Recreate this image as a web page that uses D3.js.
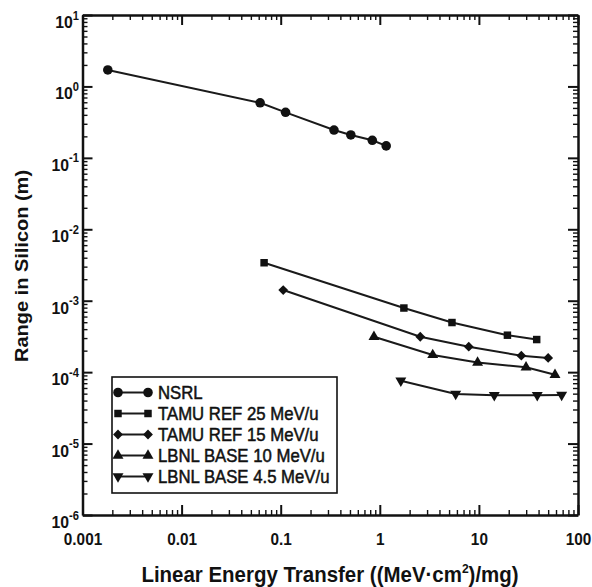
<!DOCTYPE html>
<html>
<head>
<meta charset="utf-8">
<script src="https://cdn.jsdelivr.net/npm/d3@7"></script>
<style>
  html, body { margin: 0; padding: 0; background: #fff; }
  svg { display: block; }
  text { font-family: "Liberation Sans", Arial, Helvetica, sans-serif; fill: #111; }
</style>
</head>
<body>
<svg id="chart" width="592" height="587"></svg>
<script>
// ---- Data ----
const nsrlLET     = [0.0018, 0.062, 0.112, 0.345, 0.51, 0.84, 1.16];
const nsrlRange   = [1.70, 0.59, 0.434, 0.245, 0.209, 0.176, 0.147];
const tamu25LET   = [0.068, 1.75, 5.35, 19.4, 38.3];
const tamu25Range = [3.4e-3, 7.9e-4, 4.95e-4, 3.29e-4, 2.86e-4];
const tamu15LET   = [0.106, 2.56, 7.9, 26.8, 50];
const tamu15Range = [1.41e-3, 3.13e-4, 2.27e-4, 1.70e-4, 1.58e-4];
const lbnl10LET   = [0.873, 3.42, 9.7, 29.9, 58.6];
const lbnl10Range = [3.13e-4, 1.74e-4, 1.36e-4, 1.17e-4, 9.2e-5];
const lbnl45LET   = [1.63, 5.83, 14.3, 38.8, 68.4];
const lbnl45Range = [7.6e-5, 4.95e-5, 4.75e-5, 4.75e-5, 4.8e-5];

const seriesNames = ["NSRL", "TAMU REF 25 MeV/u", "TAMU REF 15 MeV/u", "LBNL BASE 10 MeV/u", "LBNL BASE 4.5 MeV/u"];
const seriesMarkers = ["circle", "square", "diamond", "triangle", "triangleDown"];

const xTickValues = [0.001, 0.01, 0.1, 1, 10, 100];
const xTickLabels = ["0.001", "0.01", "0.1", "1", "10", "100"];
const yTickValues = [1e-6, 1e-5, 1e-4, 1e-3, 1e-2, 1e-1, 1, 10];
const yTickExponents = ["-6", "-5", "-4", "-3", "-2", "-1", "0", "1"];

const xTitle = "Linear Energy Transfer ((MeV·cm";
const yTitle = "Range in Silicon (m)";

// ---- Layout ----
const svg = d3.select("#chart");
const X0 = 82.5, X1 = 578, Y0 = 515, Y1 = 15;
const SQ = 0.93; // horizontal text compression seen in reference

const x = d3.scaleLog().domain([0.001, 100]).range([X0, X1]);
const y = d3.scaleLog().domain([1e-6, 10]).range([Y0, Y1]);

function minors(lo, hi) {
  const out = [];
  for (let e = lo; e < hi; e++) for (let m = 2; m <= 9; m++) out.push(m * Math.pow(10, e));
  return out;
}
const xMinor = minors(-3, 2);
const yMinor = minors(-6, 1);

function styleAxis(g, major) {
  g.selectAll(".domain").attr("stroke", "#111").attr("stroke-width", 2.5);
  g.selectAll(".tick line").attr("stroke", "#111").attr("stroke-width", major ? 2 : 1.4);
}

// bottom
const gb = svg.append("g").attr("transform", `translate(0,${Y0})`)
  .call(d3.axisBottom(x).tickValues(xTickValues).tickSize(-10).tickSizeOuter(0).tickPadding(18)
        .tickFormat((d, i) => xTickLabels[i]));
styleAxis(gb, true);
gb.selectAll(".tick text").attr("font-size", 16.5).attr("fill", "#111")
  .attr("font-family", "Liberation Sans, Arial, sans-serif").style("font-weight", "bold")
  .attr("transform", `scale(${SQ},1)`);
const gbm = svg.append("g").attr("transform", `translate(0,${Y0})`)
  .call(d3.axisBottom(x).tickValues(xMinor).tickSize(-5).tickSizeOuter(0).tickFormat(""));
gbm.select(".domain").remove(); styleAxis(gbm, false);

// top
const gt = svg.append("g").attr("transform", `translate(0,${Y1})`)
  .call(d3.axisTop(x).tickValues(xTickValues).tickSize(-10).tickSizeOuter(0).tickFormat(""));
styleAxis(gt, true);
const gtm = svg.append("g").attr("transform", `translate(0,${Y1})`)
  .call(d3.axisTop(x).tickValues(xMinor).tickSize(-5).tickSizeOuter(0).tickFormat(""));
gtm.select(".domain").remove(); styleAxis(gtm, false);

// left
const gl = svg.append("g").attr("transform", `translate(${X0},0)`)
  .call(d3.axisLeft(y).tickValues(yTickValues).tickSize(-10).tickSizeOuter(0).tickFormat(""));
styleAxis(gl, true);
gl.selectAll(".tick").each(function(d, i) {
  const t = d3.select(this).append("text")
    .attr("text-anchor", "end")
    .attr("transform", `translate(-3.5,12.5) scale(${SQ},1)`)
    .attr("fill", "#111").style("font-weight", "bold")
    .attr("font-family", "Liberation Sans, Arial, sans-serif");
  t.append("tspan").attr("font-size", 17).text("10");
  t.append("tspan").attr("font-size", 12).attr("dy", -8.5).text(yTickExponents[i]);
});
const glm = svg.append("g").attr("transform", `translate(${X0},0)`)
  .call(d3.axisLeft(y).tickValues(yMinor).tickSize(-5).tickSizeOuter(0).tickFormat(""));
glm.select(".domain").remove(); styleAxis(glm, false);

// right
const gr = svg.append("g").attr("transform", `translate(${X1},0)`)
  .call(d3.axisRight(y).tickValues(yTickValues).tickSize(-10).tickSizeOuter(0).tickFormat(""));
styleAxis(gr, true);
const grm = svg.append("g").attr("transform", `translate(${X1},0)`)
  .call(d3.axisRight(y).tickValues(yMinor).tickSize(-5).tickSizeOuter(0).tickFormat(""));
grm.select(".domain").remove(); styleAxis(grm, false);

// ---- Series ----
const seriesData = [
  { lets: nsrlLET,   ranges: nsrlRange },
  { lets: tamu25LET, ranges: tamu25Range },
  { lets: tamu15LET, ranges: tamu15Range },
  { lets: lbnl10LET, ranges: lbnl10Range },
  { lets: lbnl45LET, ranges: lbnl45Range },
];

function markerPath(kind) {
  switch (kind) {
    case "circle": return { p: d3.symbol().type(d3.symbolCircle).size(72)(), r: 0 };
    case "square": return { p: d3.symbol().type(d3.symbolSquare).size(56)(), r: 0 };
    case "diamond": return { p: d3.symbol().type(d3.symbolSquare).size(48)(), r: 45 };
    case "triangle": return { p: d3.symbol().type(d3.symbolTriangle).size(52)(), r: 0 };
    case "triangleDown": return { p: d3.symbol().type(d3.symbolTriangle).size(52)(), r: 180 };
  }
}

const line = d3.line().x(d => x(d[0])).y(d => y(d[1]));

seriesData.forEach((s, si) => {
  const pts = s.lets.map((v, i) => [v, s.ranges[i]]);
  svg.append("path").datum(pts).attr("d", line)
    .attr("fill", "none").attr("stroke", "#1a1a1a").attr("stroke-width", 2);
  const m = markerPath(seriesMarkers[si]);
  svg.append("g").selectAll("path").data(pts).join("path")
    .attr("d", m.p)
    .attr("transform", d => `translate(${x(d[0])},${y(d[1])}) rotate(${m.r})`)
    .attr("fill", "#111");
});

// ---- Legend ----
const lg = svg.append("g");
lg.append("rect").attr("x", 112).attr("y", 377).attr("width", 225).attr("height", 116)
  .attr("fill", "#fff").attr("stroke", "#111").attr("stroke-width", 1.6);
seriesNames.forEach((name, i) => {
  const cy = 392.5 + i * 21;
  lg.append("line").attr("x1", 118).attr("x2", 148).attr("y1", cy).attr("y2", cy)
    .attr("stroke", "#1a1a1a").attr("stroke-width", 2);
  const m = markerPath(seriesMarkers[i]);
  [118, 148].forEach(px => {
    lg.append("path").attr("d", m.p)
      .attr("transform", `translate(${px},${cy}) rotate(${m.r})`).attr("fill", "#111");
  });
  lg.append("text").attr("transform", `translate(158,${cy + 6.5}) scale(${SQ},1)`)
    .attr("font-size", 18).style("font-weight", "normal")
    .attr("stroke", "#111").attr("stroke-width", 0.5).text(name);
});

// ---- Axis titles ----
const xt = svg.append("text").attr("text-anchor", "middle")
  .attr("transform", `translate(330,582) scale(${SQ},1)`).attr("font-size", 22)
  .style("font-weight", "bold");
xt.append("tspan").text(xTitle);
xt.append("tspan").attr("font-size", 13).attr("dy", -9).text("2");
xt.append("tspan").attr("dy", 9).text(")/mg)");

svg.append("text").attr("text-anchor", "middle")
  .attr("transform", `translate(27.5,266) scale(${SQ},1) rotate(-90)`)
  .attr("font-size", 20).style("font-weight", "bold").text(yTitle);
</script>
</body>
</html>
